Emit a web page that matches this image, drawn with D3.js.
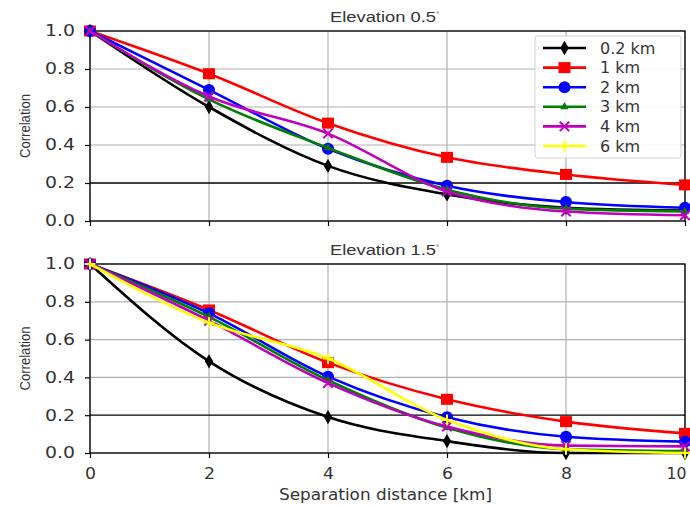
<!DOCTYPE html>
<html><head><meta charset="utf-8">
<script src="https://cdn.jsdelivr.net/npm/d3@7"></script>
<style>body{margin:0;background:#fff}svg{display:block}</style>
</head><body>
<svg id="c" width="690" height="505"></svg>
<script>
const distances = [0, 2, 4, 6, 8, 10];
const seriesNames = ["0.2 km", "1 km", "2 km", "3 km", "4 km", "6 km"];
const seriesColors = ["#000000", "#ff0000", "#0000ff", "#008000", "#bf00bf", "#ffff00"];
const seriesMarkers = ["diamond", "square", "circle", "triangle", "x", "tri"];
// Elevation 0.5°
const top02 = [1.0, 0.60, 0.29, 0.14, 0.07, 0.055];
const top1 = [1.0, 0.775, 0.515, 0.335, 0.245, 0.19];
const top2 = [1.0, 0.69, 0.38, 0.185, 0.10, 0.07];
const top3 = [1.0, 0.64, 0.385, 0.165, 0.065, 0.05];
const top4 = [1.0, 0.655, 0.46, 0.155, 0.05, 0.03];
const top6 = [null, null, null, null, null, null];
// Elevation 1.5°
const bot02 = [1.0, 0.485, 0.19, 0.063, 0.0, 0.0];
const bot1 = [1.0, 0.757, 0.478, 0.284, 0.166, 0.104];
const bot2 = [1.0, 0.739, 0.404, 0.189, 0.086, 0.06];
const bot3 = [1.0, 0.72, 0.385, 0.134, 0.02, 0.01];
const bot4 = [1.0, 0.70, 0.37, 0.14, 0.039, 0.035];
const bot6 = [1.0, 0.69, 0.50, 0.175, 0.02, 0.0];
const yTicks = [0.0, 0.2, 0.4, 0.6, 0.8, 1.0];
const xTicks = [0, 2, 4, 6, 8, 10];
const titles = ["Elevation 0.5", "Elevation 1.5"];

const svg = d3.select("#c");
const L = 90, R = 685;
const panels = [
  {top: 31, bottom: 221, data: [top02, top1, top2, top3, top4, top6], title: titles[0], legend: true, xlabels: false},
  {top: 264, bottom: 453, data: [bot02, bot1, bot2, bot3, bot4, bot6], title: titles[1], legend: false, xlabels: true}
];
const x = d3.scaleLinear().domain([0, 10]).range([L, R]);
const tickFont = "'DejaVu Sans', sans-serif";

function marker(g, type, cx, cy, color) {
  if (type === "diamond") {
    g.append("path").attr("d", d3.symbol(d3.symbolDiamond, 60)()).attr("transform", `translate(${cx},${cy})`).attr("fill", color);
  } else if (type === "square") {
    g.append("rect").attr("x", cx - 6).attr("y", cy - 5.5).attr("width", 12).attr("height", 11).attr("fill", color);
  } else if (type === "circle") {
    g.append("circle").attr("cx", cx).attr("cy", cy).attr("r", 6).attr("fill", color);
  } else if (type === "triangle") {
    g.append("path").attr("d", d3.symbol(d3.symbolTriangle, 30)()).attr("transform", `translate(${cx},${cy})`).attr("fill", color);
  } else if (type === "x") {
    g.append("path").attr("d", d3.symbol(d3.symbolX, 60)()).attr("transform", `translate(${cx},${cy})`).attr("fill", "none").attr("stroke", color).attr("stroke-width", 2);
  } else if (type === "tri") {
    g.append("path").attr("d", d3.symbol(d3.symbolTimes, 40)()).attr("transform", `translate(${cx},${cy}) rotate(45)`).attr("fill", "none").attr("stroke", color).attr("stroke-width", 2);
  }
}

panels.forEach((p, pi) => {
  const y = d3.scaleLinear().domain([0, 1]).range([p.bottom, p.top]);
  const g = svg.append("g");
  // grid
  g.selectAll(".gx").data(xTicks).join("line")
    .attr("x1", d => x(d)).attr("x2", d => x(d)).attr("y1", p.top).attr("y2", p.bottom)
    .attr("stroke", "#b0b0b0").attr("stroke-width", 1.2);
  g.selectAll(".gy").data(yTicks).join("line")
    .attr("x1", L).attr("x2", R).attr("y1", d => y(d)).attr("y2", d => y(d))
    .attr("stroke", d => d === 0.2 ? "#000" : "#b0b0b0").attr("stroke-width", d => d === 0.2 ? 1.3 : 1.2);
  // frame
  g.append("rect").attr("x", L).attr("y", p.top).attr("width", R - L).attr("height", p.bottom - p.top)
    .attr("fill", "none").attr("stroke", "#000").attr("stroke-width", 1.3);
  // axes
  const ya = d3.axisLeft(y).tickValues(yTicks).tickFormat(d3.format(".1f")).tickSize(5).tickPadding(14);
  const yg = g.append("g").attr("transform", `translate(${L},0)`).call(ya);
  yg.select(".domain").remove();
  yg.selectAll("text").attr("font-family", tickFont).attr("font-size", 15).attr("fill", "#333")
    .attr("text-anchor", "start").attr("x", -45).attr("textLength", 30).attr("lengthAdjust", "spacingAndGlyphs");
  yg.selectAll("line").attr("stroke", "#000").attr("stroke-width", 1.2);
  const xa = d3.axisBottom(x).tickValues(xTicks).tickSize(5).tickPadding(10);
  const xg = g.append("g").attr("transform", `translate(0,${p.bottom})`).call(xa);
  xg.select(".domain").remove();
  xg.selectAll("line").attr("stroke", "#000").attr("stroke-width", 1.2);
  if (!p.xlabels) xg.selectAll("text").remove();
  else xg.selectAll("text").attr("font-family", tickFont).attr("font-size", 15).attr("fill", "#333")
    .attr("x", d => d === 10 ? -9 : 0)
    .attr("textLength", d => d === 10 ? 20 : 11).attr("lengthAdjust", "spacingAndGlyphs");
  // y label
  g.append("text").attr("transform", `translate(30,${(p.top + p.bottom) / 2}) rotate(-90)`)
    .attr("text-anchor", "middle").attr("font-family", "'Liberation Sans Narrow', 'Liberation Sans', sans-serif")
    .attr("font-size", 14).attr("fill", "#333").attr("textLength", 64).attr("lengthAdjust", "spacingAndGlyphs").text("Correlation");
  // title
  const t = g.append("text").attr("x", 330).attr("y", p.top - 9).attr("text-anchor", "start")
    .attr("font-family", "'Liberation Sans', Arial, sans-serif").attr("font-size", 14).attr("fill", "#333");
  t.append("tspan").attr("textLength", 106).attr("lengthAdjust", "spacingAndGlyphs").text(p.title);
  t.append("tspan").attr("dy", -5).attr("font-size", 8).text("°");
  // lines
  const line = d3.line().defined(d => d[1] !== null).x(d => x(d[0])).y(d => y(d[1])).curve(d3.curveMonotoneX);
  p.data.forEach((vals, si) => {
    const pts = distances.map((d, i) => [d, vals[i]]);
    g.append("path").attr("d", line(pts)).attr("fill", "none").attr("stroke", seriesColors[si]).attr("stroke-width", 2.6);
    pts.filter(d => d[1] !== null).forEach(d => marker(g, seriesMarkers[si], x(d[0]), y(d[1]), seriesColors[si]));
  });
  if (p.legend) {
    const lg = g.append("g");
    lg.append("rect").attr("x", 535).attr("y", 36).attr("width", 146).attr("height", 122).attr("rx", 3)
      .attr("fill", "rgba(255,255,255,0.85)").attr("stroke", "#d0d0d0");
    seriesNames.forEach((n, si) => {
      const ly = 48 + si * 19.6;
      lg.append("line").attr("x1", 543).attr("x2", 586).attr("y1", ly).attr("y2", ly).attr("stroke", seriesColors[si]).attr("stroke-width", 2.6);
      marker(lg, seriesMarkers[si], 564.5, ly, seriesColors[si]);
      lg.append("text").attr("x", 600).attr("y", ly + 5.5).attr("font-family", tickFont).attr("font-size", 16).attr("fill", "#333").text(n);
    });
  }
});
svg.append("text").attr("x", 279).attr("y", 500).attr("text-anchor", "start").attr("font-family", tickFont)
  .attr("font-size", 15).attr("fill", "#333").attr("textLength", 213).attr("lengthAdjust", "spacingAndGlyphs")
  .text("Separation distance [km]");
</script>
</body></html>
